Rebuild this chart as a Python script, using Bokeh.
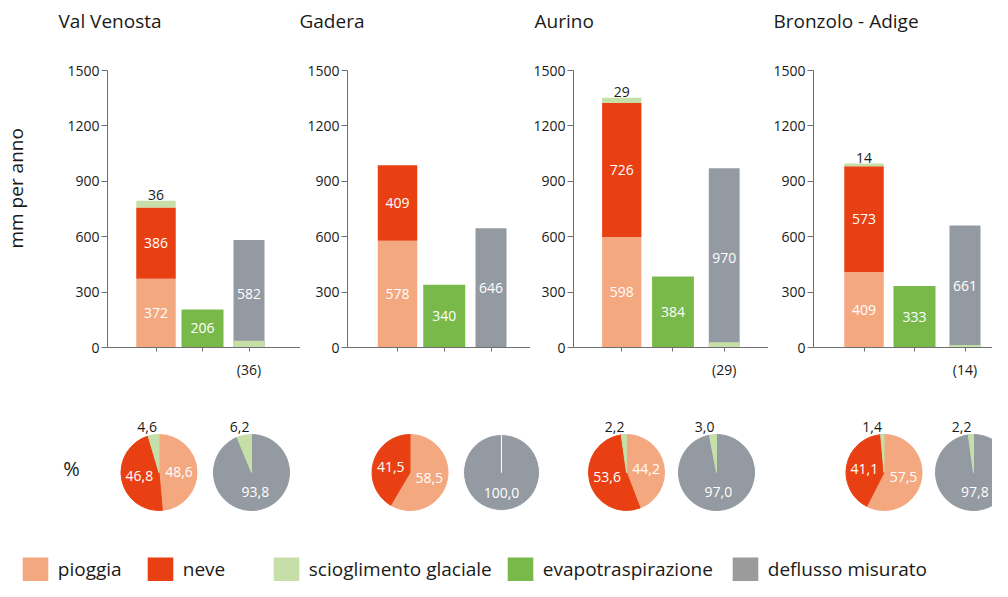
import math
from bokeh.plotting import figure
from bokeh.models import (ColumnDataSource, Range1d, FixedTicker, Legend, LegendItem, Label,
                          LinearAxis, Title)
from bokeh.layouts import row, column
from bokeh.core.properties import value
from bokeh.embed import file_html
from bokeh.resources import INLINE

# ---------------- data ----------------
regions = ["Val Venosta", "Gadera", "Aurino", "Bronzolo - Adige"]
pioggia = [372, 578, 598, 409]
neve = [386, 409, 726, 573]
ghiaccio = [36, 0, 29, 14]
evapotraspirazione = [206, 340, 384, 333]
deflusso = [582, 646, 970, 661]

pct_pioggia = [48.6, 58.5, 44.2, 57.5]
pct_neve = [46.8, 41.5, 53.6, 41.1]
pct_ghiaccio_afflusso = [4.6, 0.0, 2.2, 1.4]
pct_deflusso = [93.8, 100.0, 97.0, 97.8]
pct_ghiaccio_deflusso = [6.2, 0.0, 3.0, 2.2]

y_ticks = [0, 300, 600, 900, 1200, 1500]
legend_labels = ["pioggia", "neve", "scioglimento glaciale", "evapotraspirazione", "deflusso misurato"]
y_label = "mm per anno"
pct_label = "%"

# ---------------- styles / layout ----------------
FONT = "Open Sans"
TXT = "#1a1a1a"
AX = "#6f6f6f"
C_RAIN = "#F4A880"
C_SNOW = "#E84012"
C_GLAC = "#C6DFA9"
C_ET = "#78B94A"
C_Q = "#939AA1"
C_Q_LEG = "#9B9B9B"

FIG_W = [300, 230, 238, 224]
BORDER_L = [107, 47, 42, 45]
TITLE_OFF = [-49, -48, -39, -40]
TOP_H = 392
BORDER_T = 70
BORDER_B = 45
TITLE_GAP = 37          # px between title text and plot frame
YLABEL_GAP = 36         # px between y tick labels and y axis title
YLABEL_OFF = 99         # px from frame bottom to start of y axis title
PX_PER_SLOT = [46.5, 46.75, 51.5, 50.5]
FIRST_SLOT_PX = [48.5, 50.0, 48.5, 50.5]   # px from frame left to first bar centre
BAR_PX = [39.5, 42, 31]                    # bar widths in px

TOTAL_W = sum(FIG_W)
PIE_H = 189
PIE_TOP = TOP_H
PIE_CX_A = [158.5, 409.5, 626, 883.5]
PIE_CX_B = [251, 501, 716, 973]
PIE_CY = 472
PIE_R = 38
LEG_LEFT = [22, 147, 273, 507, 732]


def fmt(v):
    return f"{v:.1f}".replace(".", ",")


def spacer_axis(size, **kw):
    # an empty axis, used only to reserve space between the frame and a title
    return LinearAxis(ticker=FixedTicker(ticks=[0]), major_label_overrides={0: ""},
                      major_tick_out=size, major_tick_in=0, major_label_standoff=0,
                      axis_line_color=None, major_tick_line_color=None,
                      minor_tick_line_color=None, major_label_text_font_size="1px", **kw)


tops = []
for i, name in enumerate(regions):
    p_ = pioggia[i]; n_ = neve[i]; g_ = ghiaccio[i]; e_ = evapotraspirazione[i]; q_ = deflusso[i]
    frame_w = FIG_W[i] - BORDER_L[i]
    pps = PX_PER_SLOT[i]
    x0 = -FIRST_SLOT_PX[i] / pps
    x1 = x0 + frame_w / pps
    fig = figure(width=FIG_W[i], height=TOP_H, x_range=Range1d(x0, x1), y_range=Range1d(0, 1500),
                 output_backend="svg", toolbar_location=None, min_border_left=BORDER_L[i],
                 min_border_right=0, min_border_top=BORDER_T, min_border_bottom=BORDER_B,
                 title=None)
    fig.outline_line_color = None
    fig.grid.visible = False
    fig.background_fill_color = "white"
    xa = fig.below[0]
    ya = fig.left[0]

    fig.add_layout(spacer_axis(TITLE_GAP), "above")
    fig.add_layout(Title(text=name, text_font=FONT, text_font_size="19px", text_font_style="normal",
                         text_color=TXT, offset=TITLE_OFF[i], standoff=0, align="left"), "above")

    segs = dict(x=[], bottom=[], top=[], w=[], color=[])

    def add(slot, b, t, c):
        segs["x"].append(slot); segs["bottom"].append(b); segs["top"].append(t)
        segs["w"].append(BAR_PX[slot] / pps); segs["color"].append(c)

    add(0, 0, p_, C_RAIN)
    add(0, p_, p_ + n_, C_SNOW)
    if g_ > 0:
        add(0, p_ + n_, p_ + n_ + g_, C_GLAC)
    add(1, 0, e_, C_ET)
    add(2, 0, q_, C_Q)
    if g_ > 0:
        add(2, 0, g_, C_GLAC)
    fig.vbar(x="x", bottom="bottom", top="top", width="w", fill_color="color", line_color=None,
             source=ColumnDataSource(segs))

    inner = dict(x=[0, 0, 1, 2], y=[p_ / 2, p_ + n_ / 2, e_ / 2, q_ / 2],
                 t=[str(p_), str(n_), str(e_), str(q_)])
    fig.text(x="x", y="y", text="t", source=ColumnDataSource(inner), text_color="white",
             text_font=value(FONT), text_font_size="14px", text_align="center", text_baseline="middle")
    if g_ > 0:
        fig.text(x=[0], y=[p_ + n_ + g_], text=[str(g_)], text_color=TXT, text_font=value(FONT),
                 text_font_size="14px", text_align="center", text_baseline="bottom", y_offset=-1)

    ya.ticker = FixedTicker(ticks=y_ticks)
    ya.axis_line_color = AX
    ya.major_tick_line_color = AX
    ya.major_tick_out = 6
    ya.major_tick_in = 0
    ya.minor_tick_line_color = None
    ya.major_label_standoff = 2
    ya.major_label_text_font = FONT
    ya.major_label_text_font_size = "14px"
    ya.major_label_text_color = TXT
    if i == 0:
        fig.add_layout(spacer_axis(YLABEL_GAP), "left")
        fig.add_layout(Title(text=y_label, text_font=FONT, text_font_size="19px",
                             text_font_style="normal", text_color=TXT, align="left",
                             offset=YLABEL_OFF, standoff=0), "left")

    xa.ticker = FixedTicker(ticks=[0, 1, 2])
    xa.major_label_overrides = {0: "", 1: "", 2: f"({g_})" if g_ > 0 else ""}
    xa.axis_line_color = AX
    xa.major_tick_line_color = AX
    xa.major_tick_out = 4
    xa.major_tick_in = 0
    xa.minor_tick_line_color = None
    xa.major_label_standoff = 8
    xa.major_label_text_font = FONT
    xa.major_label_text_font_size = "14px"
    xa.major_label_text_color = TXT
    tops.append(fig)

# ---------------- pies + legend ----------------
pf = figure(width=TOTAL_W, height=PIE_H, x_range=Range1d(0, TOTAL_W),
            y_range=Range1d(-(PIE_TOP + PIE_H), -PIE_TOP), output_backend="svg", toolbar_location=None,
            x_axis_type=None, y_axis_type=None, min_border=0)
pf.outline_line_color = None
pf.grid.visible = False

wed = dict(x=[], y=[], s=[], e=[], fill=[], line=[])
lab_in = dict(x=[], y=[], t=[])
lab_out = dict(x=[], y=[], t=[])

pies = []
for i in range(len(regions)):
    pies.append((PIE_CX_A[i], [(pct_pioggia[i], C_RAIN), (pct_neve[i], C_SNOW), (pct_ghiaccio_afflusso[i], C_GLAC)]))
    pies.append((PIE_CX_B[i], [(pct_deflusso[i], C_Q), (pct_ghiaccio_deflusso[i], C_GLAC)]))

for cx, slices in pies:
    cum = 0.0
    for pct, col in slices:
        if pct <= 0:
            continue
        full = pct >= 100
        a0 = math.pi / 2 - 2 * math.pi * cum / 100
        a1 = math.pi / 2 - 2 * math.pi * (cum + pct) / 100
        if full:
            a1 += 1e-3
        wed["x"].append(cx); wed["y"].append(-PIE_CY)
        wed["s"].append(a0); wed["e"].append(a1)
        wed["fill"].append(col); wed["line"].append("white" if full else col)
        if pct >= 10:
            th = 2 * math.pi * (cum + pct / 2) / 100
            lab_in["x"].append(cx + 20 * math.sin(th))
            lab_in["y"].append(-PIE_CY + 20 * math.cos(th))
            lab_in["t"].append(fmt(pct))
        else:
            lab_out["x"].append(cx - 2)
            lab_out["y"].append(-(PIE_CY - PIE_R - 3))
            lab_out["t"].append(fmt(pct))
        cum += pct

pf.wedge(x="x", y="y", radius=PIE_R, radius_units="screen", start_angle="s", end_angle="e",
         direction="clock", fill_color="fill", line_color="line", line_width=1,
         source=ColumnDataSource(wed))
pf.text(x="x", y="y", text="t", source=ColumnDataSource(lab_in), text_color="white",
        text_font=value(FONT), text_font_size="14px", text_align="center", text_baseline="middle")
pf.text(x="x", y="y", text="t", source=ColumnDataSource(lab_out), text_color=TXT,
        text_font=value(FONT), text_font_size="14px", text_align="right", text_baseline="bottom")

pf.add_layout(Label(x=71, y=-468, text=pct_label, text_font=FONT, text_font_size="20px",
                    text_color=TXT, text_align="center", text_baseline="middle"))

leg_colors = [C_RAIN, C_SNOW, C_GLAC, C_ET, C_Q_LEG]
GW, GH = 32, 30
for k, (lab, col) in enumerate(zip(legend_labels, leg_colors)):
    r = pf.vbar(x=[0], top=[0], width=1, fill_color=col, line_color=None, visible=False)
    lg = Legend(items=[LegendItem(label=lab, renderers=[r])],
                location=(LEG_LEFT[k] - 0.1 * GW, -3),
                glyph_width=GW, glyph_height=GH, label_standoff=7, padding=0, margin=0,
                spacing=0, border_line_color=None, background_fill_alpha=0,
                label_text_font=FONT, label_text_font_size="19px", label_text_color=TXT,
                label_height=GH, click_policy="none")
    pf.add_layout(lg, "center")

layout = column(row(*tops, spacing=0), pf, spacing=0)
open("out.html", "w").write(file_html(layout, INLINE))
